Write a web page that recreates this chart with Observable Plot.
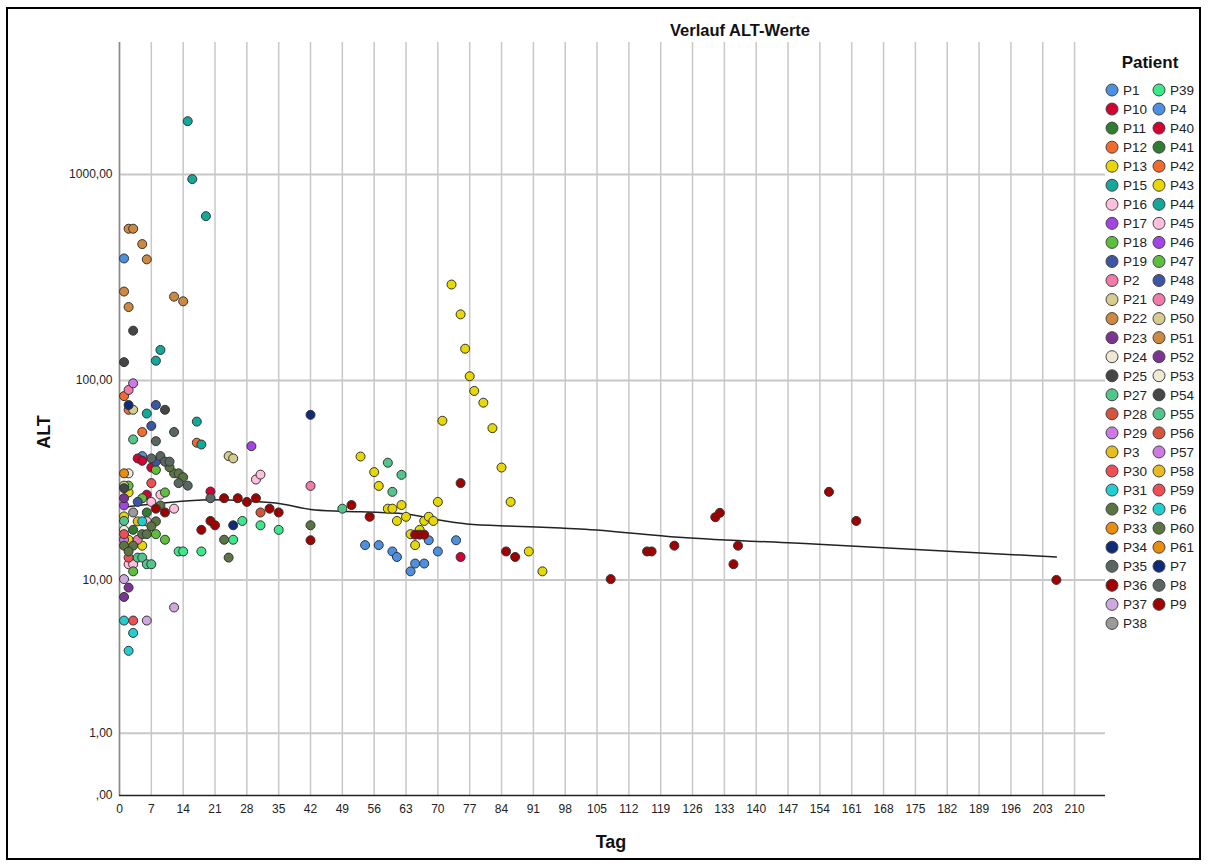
<!DOCTYPE html>
<html><head><meta charset="utf-8">
<script src="https://cdn.jsdelivr.net/npm/d3@7"></script>
<script src="https://cdn.jsdelivr.net/npm/@observablehq/plot@0.6"></script>
<style>
body{margin:0;background:#fff;}
#chart{position:relative;width:1208px;height:868px;}
</style></head><body><div id="chart"></div>
<script>
// Legend order of patients (as listed in the reference)
const patients = ["P1","P10","P11","P12","P13","P15","P16","P17","P18","P19","P2","P21","P22","P23","P24","P25","P27","P28","P29","P3","P30","P31","P32","P33","P34","P35","P36","P37","P38",
  "P39","P4","P40","P41","P42","P43","P44","P45","P46","P47","P48","P49","P50","P51","P52","P53","P54","P55","P56","P57","P58","P59","P6","P60","P61","P7","P8","P9"];
// SPSS colour cycle (30 colours, repeats)
const palette = ["#4d8fe0","#d40032","#2e7d32","#f26b2a","#e6d800","#14a89b","#ffbfdd","#a344e8","#5dc03c","#3c55a5",
  "#f27baa","#d6cc90","#cf8840","#7b3491","#eee8d5","#464646","#52c68a","#d4553a","#ce7ae6","#e8bc1e",
  "#ef4e55","#22cdd0","#5b7444","#e88d0e","#0e2a78","#5a6662","#a00000","#cfa8e2","#9a9a9a","#3ce88a"];
const xTicks = d3.range(0, 211, 7);
const yTicks = [0, 1, 10, 100, 1000];
// Measurements: [patient, Tag, ALT]
const messungen = [
  ["P1",1,392],["P1",5,42.6],
  ["P4",54,15.2],["P4",57,15.2],["P4",60,14.1],["P4",61,13.2],["P4",64,11.1],["P4",65,12.2],["P4",67,12.2],["P4",68,16.1],["P4",70,14.1],["P4",74,16.1],
  ["P10",4,41.5],["P10",5,40.4],["P10",7,37.4],["P10",6,27.4],["P10",20,28.4],["P40",75,13.2],
  ["P11",3,18.2],["P11",6,22.3],
  ["P12",1,84],["P12",2,72],["P12",5,56],["P12",17,49.6],
  ["P13",2,28.1],["P13",1,21.3],["P13",2,16.2],["P13",5,15.1],
  ["P43",53,42.4],["P43",56,35.5],["P43",57,30.3],["P43",59,23.3],["P43",60,23.3],["P43",61,20.2],["P43",62,24.3],["P43",63,21.2],["P43",64,17.3],["P43",65,15.2],["P43",66,18.2],["P43",67,20.2],["P43",68,21.2],["P43",69,20.2],["P43",70,25.2],["P43",71,63.6],["P43",73,293],["P43",75,210],["P43",76,143],["P43",77,105],["P43",78,89],["P43",80,78],["P43",82,58.5],["P43",84,37.4],["P43",86,25.2],["P43",90,14.1],["P43",93,11.1],
  ["P15",15,1808],["P15",16,949],["P15",19,628],["P15",9,141],["P15",8,125],["P15",6,69],["P15",17,63],["P15",18,48.6],
  ["P16",30,32.6],["P16",31,34.5],["P16",9,27.4],["P16",7,25.2],["P16",12,23.3],["P16",2,12.1],["P16",3,12.1],["P16",6,20.1],
  ["P17",29,47.7],["P17",1,24.2],
  ["P18",8,36.4],["P18",5,26.3],["P18",10,28.1],["P18",2,30.4],["P18",8,17.3],["P18",10,16.2],["P18",3,11.1],
  ["P19",8,76],["P19",7,60],["P19",4,25.2],["P19",8,40],
  ["P2",2,90],["P49",42,30.3],["P2",4,16.2],
  ["P21",3,72],["P21",24,42.6],["P21",25,41.5],["P21",1,30.4],
  ["P22",2,546],["P22",3,546],["P22",5,460],["P22",6,388],["P22",1,271],["P22",2,228],["P22",12,256],["P22",14,243],
  ["P23",1,26.3],["P23",2,9.1],["P23",1,8.1],
  ["P24",2,35],["P24",1,18.2],
  ["P25",3,175],["P25",1,123],["P25",10,72],["P25",1,29.5],
  ["P27",3,51.5],["P27",1,20.2],["P27",4,13.1],["P27",5,13.1],["P27",6,12.1],["P27",7,12.1],["P55",49,23.3],["P55",59,39.5],["P55",62,34.4],["P55",60,28.3],
  ["P28",31,22.3],
  ["P29",3,97],["P29",1,16.2],
  ["P3",4,20.1],
  ["P30",7,31.3],["P30",1,17.3],["P30",2,13.1],["P30",3,6],
  ["P31",5,20.1],["P31",1,6],["P31",3,5.1],["P31",2,4],
  ["P32",12,35],["P32",13,35],["P32",11,37.5],["P32",14,33.5],["P32",9,24.2],["P32",8,20.1],["P32",7,19],["P32",5,17.3],["P32",6,17.3],["P32",1,15.1],["P32",3,15.1],["P32",2,14.1],["P32",23,16.2],["P32",24,13.1],["P32",42,19.2],
  ["P33",1,35],
  ["P34",2,76],["P34",42,68],["P34",25,19.2],
  ["P35",12,56],["P35",8,50.5],["P35",7,41.5],["P35",9,42.6],["P35",10,40],["P35",11,40],["P35",13,31.3],["P35",15,30.4],["P35",20,26.3],
  ["P36",23,26.3],["P36",26,26.3],["P36",28,25.2],["P36",30,26.3],["P36",8,23.3],["P36",10,22.3],["P36",33,23.3],["P36",35,22.3],["P36",18,18.2],["P36",20,20.2],["P36",21,19.2],["P36",42,16.1],["P36",51,24.3],["P36",55,21.2],
  ["P9",65,17.2],["P9",66,17.2],["P9",67,17.2],["P9",75,31.3],["P9",85,14.1],["P9",87,13.2],["P9",108,10.1],["P9",116,14.1],["P9",117,14.1],["P9",122,15.1],["P9",131,21.1],["P9",132,22.2],["P9",135,12.1],["P9",136,15.1],["P9",156,28.3],["P9",162,20.2],["P9",206,10],
  ["P37",1,10.1],["P37",12,7.1],["P37",6,6],
  ["P38",3,22.3],
  ["P39",27,20.2],["P39",31,19.2],["P39",35,18.2],["P39",25,16.2],["P39",13,14.1],["P39",14,14.1],["P39",18,14.1]
];
// Fit line
const loessTag = [1, 9, 20, 28.7, 35.4, 42, 49, 57.3, 63.2, 69.8, 76.4, 86.7, 97, 101.3, 123, 152.6, 206];
const loessALT = [23.7, 24.8, 25.8, 25.4, 24.7, 23.1, 22.6, 22.3, 21.9, 20.5, 19.5, 19.0, 18.6, 18.4, 16.7, 15.4, 13.2];

const data = messungen.map(([patient, tag, alt]) => ({patient, tag, alt}));
const loess = loessTag.map((t, i) => ({tag: t, alt: loessALT[i]}));
const fmt = d => d === 0 ? ",00" : d.toFixed(2).replace(".", ",");
const font = "'Liberation Sans', Arial, sans-serif";

const plot = Plot.plot({
  width: 1208, height: 868,
  marginLeft: 119, marginRight: 103, marginTop: 42, marginBottom: 73,
  style: {fontFamily: font, fontSize: "12px", color: "#222", background: "#fff"},
  x: {domain: [0, 216.8], label: null},
  y: {type: "symlog", constant: 1, domain: [0, 4340], label: null},
  color: {domain: patients, range: patients.map((_, i) => palette[i % palette.length])},
  marks: [
    Plot.gridX(xTicks, {stroke: "#c8c8c8", strokeOpacity: 1, strokeWidth: 1.5}),
    Plot.gridY([1, 10, 100, 1000], {stroke: "#c8c8c8", strokeOpacity: 1, strokeWidth: 2}),
    Plot.ruleX([0], {stroke: "#888", strokeWidth: 1.5}),
    Plot.ruleY([0], {stroke: "#222", strokeWidth: 1.5}),
    Plot.axisX(xTicks, {tickSize: 0, tickPadding: 9, label: null, tickFormat: d => String(d)}),
    Plot.axisY(yTicks, {tickSize: 0, tickPadding: 7, label: null, tickFormat: fmt}),
    Plot.line(loess, {x: "tag", y: "alt", stroke: "#222", strokeWidth: 1.5, curve: "monotone-x"}),
    Plot.dot(data, {x: "tag", y: "alt", fill: "patient", r: 4.5, stroke: "#333", strokeWidth: 1})
  ]
});

const svg = d3.select(plot);
const color = plot.scale("color");
svg.append("rect").attr("x", 7).attr("y", 8).attr("width", 1193).attr("height", 851)
  .attr("fill", "none").attr("stroke", "#000").attr("stroke-width", 2);
svg.append("text").attr("x", 740).attr("y", 36).attr("text-anchor", "middle")
  .attr("font-family", font).attr("font-size", 16.5).attr("font-weight", "bold").attr("fill", "#111")
  .text("Verlauf ALT-Werte");
svg.append("text").attr("x", 611).attr("y", 848).attr("text-anchor", "middle")
  .attr("font-family", font).attr("font-size", 18).attr("font-weight", "bold").attr("fill", "#111")
  .text("Tag");
svg.append("text").attr("transform", "translate(50,432) rotate(-90)").attr("text-anchor", "middle")
  .attr("font-family", font).attr("font-size", 18).attr("font-weight", "bold").attr("fill", "#111")
  .text("ALT");
svg.append("text").attr("x", 1150).attr("y", 68).attr("text-anchor", "middle")
  .attr("font-family", font).attr("font-size", 17).attr("font-weight", "bold").attr("fill", "#111")
  .text("Patient");
const lg = svg.append("g").attr("text-anchor", "start");
patients.forEach((p, i) => {
  const col = i < 29 ? 0 : 1;
  const row = col === 0 ? i : i - 29;
  const cx = col === 0 ? 1112 : 1159;
  const cy = 90 + row * 19.05;
  lg.append("circle").attr("cx", cx).attr("cy", cy).attr("r", 6)
    .attr("fill", color.apply(p)).attr("stroke", "#444").attr("stroke-width", 1);
  lg.append("text").attr("x", cx + 11).attr("y", cy).attr("dy", "0.36em").attr("text-anchor", "start")
    .attr("font-family", font).attr("font-size", 13.5).attr("fill", "#222").text(p);
});
document.getElementById("chart").appendChild(plot);
</script>
</body></html>
